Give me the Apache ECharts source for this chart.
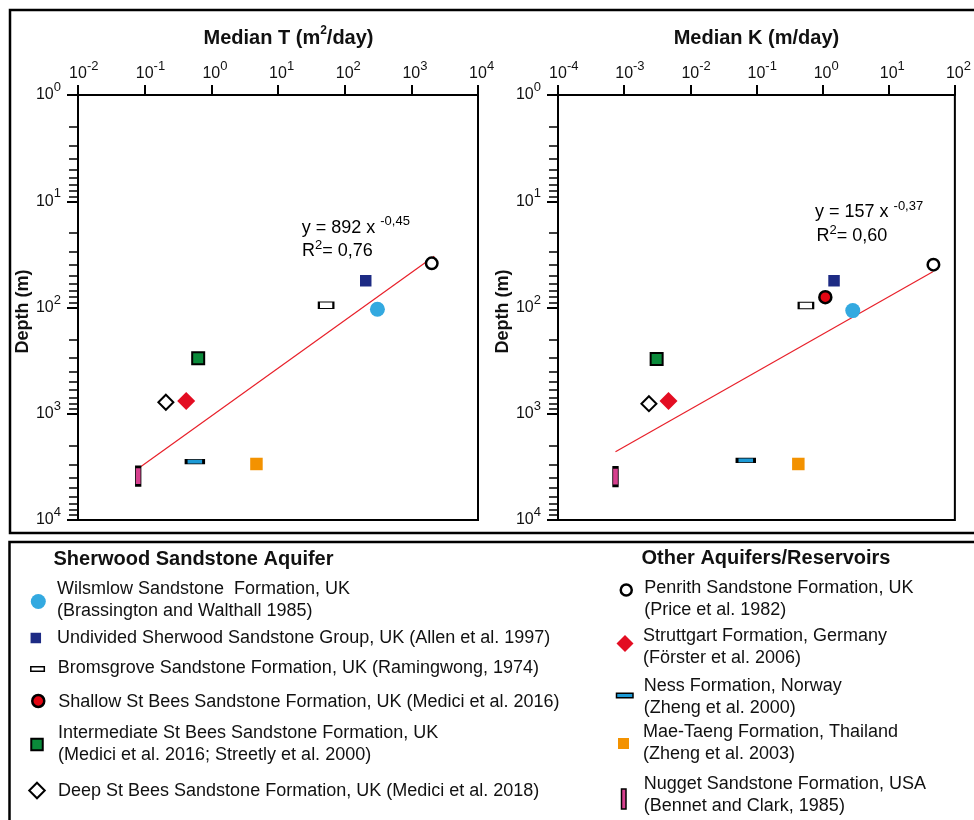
<!DOCTYPE html>
<html><head><meta charset="utf-8">
<script src="https://cdn.jsdelivr.net/npm/echarts@6/dist/echarts.min.js"></script>
<style>html,body{margin:0;padding:0;background:#fff}#c{width:974px;height:820px}</style>
</head><body><div id="c"></div>
<script>
// ---------------- DATA ----------------
const formations = [
  'Wilsmlow', 'Undivided', 'Bromsgrove', 'Shallow St Bees', 'Intermediate St Bees', 'Deep St Bees',
  'Penrith', 'Struttgart', 'Ness', 'Mae-Taeng', 'Nugget'
];
const legendLabels = [
  'Wilsmlow Sandstone  Formation, UK\n(Brassington and Walthall 1985)',
  'Undivided Sherwood Sandstone Group, UK (Allen et al. 1997)',
  'Bromsgrove Sandstone Formation, UK (Ramingwong, 1974)',
  'Shallow St Bees Sandstone Formation, UK (Medici et al. 2016)',
  'Intermediate St Bees Sandstone Formation, UK\n(Medici et al. 2016; Streetly et al. 2000)',
  'Deep St Bees Sandstone Formation, UK (Medici et al. 2018)',
  'Penrith Sandstone Formation, UK\n(Price et al. 1982)',
  'Struttgart Formation, Germany\n(Förster et al. 2006)',
  'Ness Formation, Norway\n(Zheng et al. 2000)',
  'Mae-Taeng Formation, Thailand\n(Zheng et al. 2003)',
  'Nugget Sandstone Formation, USA\n(Bennet and Clark, 1985)'
];
const groupTitles = ['Sherwood Sandstone Aquifer', 'Other Aquifers/Reservoirs'];

// Median transmissivity T (m2/day) and depth (m)
const medianT = [310, 207, 52.7, null, 0.635, 0.208, 2023, 0.42, 0.566, 4.75, 0.080];
const depthT  = [104, 56, 95, null, 301, 780, 38.4, 759, 2826, 2970, 3855];
// Median hydraulic conductivity K (m/day) and depth (m)
const medianK = [2.86, 1.49, 0.56, 1.1, 0.0031, 0.00237, 47.4, 0.00468, 0.069, 0.43, 0.00074];
const depthK  = [107, 56, 96, 80, 305, 804, 39.5, 760, 2740, 2970, 3900];

// Power-law trend line end points
const trendT = [0.085, 2200];
const trendTDepth = [3190, 33];
const trendK = [0.00074, 46.4];
const trendKDepth = [2275, 46];

const eqT = { line1: 'y = 892 x ', exp: '-0,45', r2: '= 0,76' };
const eqK = { line1: 'y = 157 x ', exp: '-0,37', r2: '= 0,60' };

const xTitleT = ['Median T (m', '2', '/day)'];
const xTitleK = 'Median K (m/day)';
const yTitle = 'Depth (m)';
const minorDepthTicks = [2,3,4,5,6,7,8,9,20,30,40,50,60,70,80,90,200,300,400,500,600,700,800,900,2000,3000,4000,5000,6000,7000,8000,9000];

// ---------------- STYLES / LAYOUT ----------------
const FONT = '"Liberation Sans", Arial, Helvetica, sans-serif';
const markerStyles = [
  {symbol:'circle', size:15, color:'#33A9E0', border:null, bw:0},
  {symbol:'rect', size:11.5, color:'#1D2B84', border:null, bw:0},
  {symbol:'rect', size:[14.5,6.5], color:'#ffffff', border:'#000', bw:1.5},
  {symbol:'circle', size:12, color:'#E30613', border:'#000', bw:2.5},
  {symbol:'rect', size:12, color:'#0A8A3A', border:'#000', bw:2},
  {symbol:'diamond', size:15, color:'#ffffff', border:'#000', bw:2},
  {symbol:'circle', size:11.5, color:'#ffffff', border:'#000', bw:2.5},
  {symbol:'diamond', size:18, color:'#E30D22', border:null, bw:0},
  {symbol:'rect', size:[17.5,4.5], color:'#1C9AD6', border:'#000', bw:1.5},
  {symbol:'rect', size:12.5, color:'#F39200', border:null, bw:0},
  {symbol:'rect', size:[5.5,18.5], color:'#D6408E', border:'#000', bw:1.5}
];
// legend icon centre, drawn size, text start x, text-centre offset from icon centre
const legendLayout = [
  {cx:38.3, cy:601.5, w:15, h:15, tx:57, dy:-1},
  {cx:35.8, cy:638, w:10.5, h:10.5, tx:57, dy:0},
  {cx:36.8, cy:669, w:13.5, h:4.5, tx:57, dy:-1},
  {cx:37, cy:701, w:12, h:12, tx:57, dy:1},
  {cx:36, cy:744.5, w:11.5, h:11.5, tx:57, dy:0},
  {cx:36, cy:790.5, w:15.5, h:15.5, tx:57, dy:1},
  {cx:625, cy:590, w:11, h:11, tx:643, dy:9.5},
  {cx:625, cy:643.5, w:17, h:17, tx:643, dy:3.5},
  {cx:624, cy:695.5, w:16.5, h:4.5, tx:643, dy:1.5},
  {cx:623.5, cy:743.5, w:11, h:11, tx:643, dy:-0.5},
  {cx:623, cy:799, w:4.5, h:20, tx:643, dy:-3.5}
];

const expOf = v => Math.round(Math.log10(v));
const supRich = {
  b: {fontSize:16, fontFamily:FONT, color:'#111', lineHeight:28, verticalAlign:'middle'},
  s: {fontSize:13, fontFamily:FONT, color:'#111', lineHeight:12, verticalAlign:'top'},
  h: {fontSize:13, fontFamily:FONT, color:'rgba(0,0,0,0)', lineHeight:12, verticalAlign:'top'}
};

function xAxisOf(grid, min, max, nameText, nameRich, namePad) {
  return {
    type:'log', logBase:10, gridIndex:grid, position:'top', min, max,
    name: nameText, nameLocation:'middle', nameGap:44,
    nameTextStyle: {fontSize:20, fontWeight:'bold', fontFamily:FONT, color:'#111', rich: nameRich, padding: namePad, lineHeight:26},
    axisLine:{show:true, onZero:false, lineStyle:{color:'#000', width:2}},
    axisTick:{show:true, inside:false, length:10, lineStyle:{color:'#000', width:2}},
    axisLabel:{show:true, margin:7, showMinLabel:true, showMaxLabel:true,
      formatter: v => { const e = String(expOf(v)); return '{h|' + e + '}{b|10}{s|' + e + '}'; },
      rich: supRich},
    splitLine:{show:false}, minorTick:{show:false}
  };
}
function yAxisMain(grid) {
  return {
    type:'log', logBase:10, gridIndex:grid, position:'left', inverse:true, min:1, max:10000,
    name: yTitle, nameLocation:'middle', nameGap:40, nameRotate:90,
    nameTextStyle:{fontSize:18, fontWeight:'bold', fontFamily:FONT, color:'#111', padding:[0,8,0,0]},
    axisLine:{show:true, onZero:false, lineStyle:{color:'#000', width:2}},
    axisTick:{show:true, inside:false, length:11, lineStyle:{color:'#000', width:2}},
    axisLabel:{show:true, margin:17, showMinLabel:true, showMaxLabel:true,
      formatter: v => '{b|10}{s|' + expOf(v) + '}', rich: supRich},
    splitLine:{show:false}
  };
}
function yAxisMinor(grid) {
  return {
    type:'log', logBase:10, gridIndex:grid, position:'left', inverse:true, min:1, max:10000,
    axisLine:{show:false},
    axisTick:{show:true, inside:false, length:9, customValues:minorDepthTicks, lineStyle:{color:'#000', width:1.5}},
    axisLabel:{show:false}, splitLine:{show:false}
  };
}

const series = [];
series.push({type:'line', xAxisIndex:0, yAxisIndex:0, z:1, symbol:'none', silent:true,
  lineStyle:{color:'#E8202A', width:1.2}, data: trendT.map((x,i) => [x, trendTDepth[i]])});
series.push({type:'line', xAxisIndex:1, yAxisIndex:2, z:1, symbol:'none', silent:true,
  lineStyle:{color:'#E8202A', width:1.2}, data: trendK.map((x,i) => [x, trendKDepth[i]])});
formations.forEach((name, i) => {
  const S = markerStyles[i];
  const base = {type:'scatter', name, symbol:S.symbol, symbolSize:S.size, z:3,
    itemStyle:{color:S.color, opacity:1, borderColor:S.border || S.color, borderWidth:S.bw}};
  if (medianT[i] != null) series.push(Object.assign({}, base, {xAxisIndex:0, yAxisIndex:0, data:[[medianT[i], depthT[i]]]}));
  if (medianK[i] != null) series.push(Object.assign({}, base, {xAxisIndex:1, yAxisIndex:2, data:[[medianK[i], depthK[i]]]}));
});

const legends = formations.map((name, i) => {
  const L = legendLayout[i], S = markerStyles[i];
  const lines = legendLabels[i].split('\n');
  const sp = Math.abs(2 * L.dy);
  const useSpacer = sp >= 1;
  const boxH = Math.max(lines.length * 22 + (useSpacer ? sp : 0), L.h);
  const left = L.cx - L.w / 2;
  const tokenStyle = {fontSize:18, lineHeight:22, fontFamily:FONT, color:'#111'};
  const rich = {
    t: Object.assign({}, tokenStyle),
    e: {fontSize:1, lineHeight:sp, fontFamily:FONT, color:'rgba(0,0,0,0)'}
  };
  let parts = lines.map(ln => '{t|' + ln + '}');
  if (useSpacer) {
    if (L.dy > 0) parts.unshift('{e| }'); else parts.push('{e| }');
  }
  const text = parts.join('\n');
  return {
    data:[name], orient:'vertical', left, top: L.cy - boxH / 2,
    itemWidth:L.w, itemHeight:L.h, padding:0, selectedMode:false, icon:S.symbol,
    itemStyle:{color:S.color, borderColor:S.border || S.color, borderWidth:S.bw},
    formatter: () => text,
    textStyle:{fontSize:18, lineHeight:22, fontFamily:FONT, color:'#111', rich, padding:[0,0,0, L.tx - (left + L.w + 5)]}
  };
});

const eqRich = {
  a:{fontSize:18, fontFamily:FONT, color:'#111', lineHeight:26, verticalAlign:'middle'},
  s:{fontSize:13, fontFamily:FONT, color:'#111', lineHeight:12, verticalAlign:'top'}
};
function eqGraphics(eq, x1, y1, x2, y2) {
  return [
    {type:'text', x:x1, y:y1, z:10, style:{text:'{a|' + eq.line1 + '}{s|' + eq.exp + '}', rich:eqRich, verticalAlign:'middle'}},
    {type:'text', x:x2, y:y2, z:10, style:{text:'{a|R}{s|2}{a|' + eq.r2 + '}', rich:eqRich, verticalAlign:'middle'}}
  ];
}

const option = {
  animation:false,
  backgroundColor:'#ffffff',
  grid:[
    {left:78, top:95, width:400, height:425, show:true, borderColor:'#000', borderWidth:2, backgroundColor:'transparent'},
    {left:558, top:95, width:401, height:425, show:true, borderColor:'#000', borderWidth:2, backgroundColor:'transparent'}
  ],
  xAxis:[
    xAxisOf(0, 0.01, 10000, '{t|' + xTitleT[0] + '}{u|' + xTitleT[1] + '}{t|' + xTitleT[2] + '}',
      {t:{fontSize:20, fontWeight:'bold', fontFamily:FONT, color:'#111', lineHeight:26, verticalAlign:'middle'},
       u:{fontSize:12, fontWeight:'bold', fontFamily:FONT, color:'#111', lineHeight:12, verticalAlign:'top'}}, [0,0,0,21]),
    xAxisOf(1, 0.0001, 100, xTitleK, undefined, 0)
  ],
  yAxis:[yAxisMain(0), yAxisMinor(0), yAxisMain(1), yAxisMinor(1)],
  legend: legends,
  series,
  graphic:[
    {type:'rect', shape:{x:10, y:10, width:1000, height:523}, style:{fill:'none', stroke:'#000', lineWidth:2.5}, z:0, silent:true},
    {type:'rect', shape:{x:9.5, y:542, width:1000, height:320}, style:{fill:'none', stroke:'#000', lineWidth:2.5}, z:0, silent:true},
    {type:'text', x:53.5, y:559, style:{text:groupTitles[0], font:'bold 20px ' + FONT, fill:'#111', verticalAlign:'middle'}},
    {type:'text', x:641.5, y:558, style:{text:groupTitles[1], font:'bold 20px ' + FONT, fill:'#111', verticalAlign:'middle'}},
    ...eqGraphics(eqT, 301.7, 228, 302, 251.5),
    ...eqGraphics(eqK, 815, 212.5, 816.5, 236.5)
  ]
};
const chart = echarts.init(document.getElementById('c'), null, {renderer:'canvas'});
chart.setOption(option);
</script>
</body></html>
